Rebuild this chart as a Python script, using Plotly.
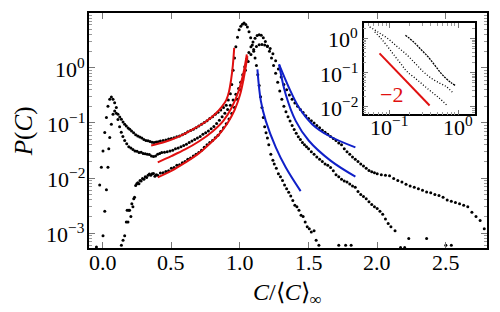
import plotly.graph_objects as go
import math

# ---------------- main panel data ----------------
n_x = [-0.046, -0.022, -0.01, 0.002, 0.015, 0.027, 0.038, 0.051, 0.063, 0.075, 0.087, 0.099,
       0.111, 0.124, 0.136, 0.148, 0.16, 0.172, 0.185, 0.197, 0.21, 0.225, 0.24, 0.255, 0.27,
       0.285, 0.3, 0.315, 0.33, 0.345, 0.36, 0.375, 0.39, 0.405, 0.42, 0.44, 0.46, 0.48, 0.5,
       0.52, 0.54, 0.56, 0.58, 0.6, 0.62, 0.64, 0.66, 0.68, 0.7, 0.72, 0.74, 0.76, 0.78, 0.8,
       0.82, 0.84, 0.86, 0.88, 0.9, 0.915, 0.93, 0.94, 0.95, 0.96, 0.97, 0.982, 0.994, 1.006,
       1.018, 1.03, 1.042, 1.054, 1.066, 1.078, 1.09, 1.1, 1.11, 1.12, 1.13, 1.14, 1.15, 1.16,
       1.17, 1.18, 1.19, 1.2, 1.21, 1.225, 1.24, 1.25, 1.265, 1.28, 1.295, 1.31, 1.325, 1.34,
       1.355, 1.37, 1.385, 1.4, 1.415, 1.43, 1.445, 1.46, 1.475, 1.49, 1.505, 1.52, 1.54, 1.555,
       1.575, 1.72, 1.77, 1.81]
n_y = [0.00056, 0.0075, 0.0157, 0.031, 0.067, 0.125, 0.20, 0.27, 0.296, 0.27, 0.233, 0.19,
       0.144, 0.128, 0.117, 0.104, 0.095, 0.088, 0.081, 0.077, 0.071, 0.066, 0.061, 0.058, 0.0555,
       0.053, 0.05, 0.048, 0.0475, 0.046, 0.0445, 0.044, 0.045, 0.0455, 0.047, 0.048, 0.049, 0.051, 0.052,
       0.054, 0.056, 0.058, 0.061, 0.064, 0.069, 0.073, 0.077, 0.082, 0.088, 0.095, 0.102, 0.11, 0.12, 0.13,
       0.143, 0.157, 0.172, 0.19, 0.21, 0.26, 0.34, 0.5, 0.9, 1.5, 2.4, 3.6, 4.9, 5.7,
       6.2, 6.5, 6.1, 5.5, 4.5, 3.5, 2.6, 2.0, 1.5, 1.1, 0.75, 0.48, 0.3, 0.19,
       0.125, 0.085, 0.066, 0.053, 0.04, 0.027, 0.021, 0.018, 0.015, 0.012, 0.0105, 0.009, 0.0075, 0.0064,
       0.0055, 0.0047, 0.0039, 0.0032, 0.003, 0.0026, 0.0021, 0.002, 0.0016, 0.0013, 0.0012, 0.00105, 0.0011, 0.00074,
       0.0006, 0.0006, 0.0006, 0.0006]

m_x = [0.002, 0.015, 0.027, 0.038, 0.044, 0.051, 0.063, 0.075, 0.087, 0.099, 0.111, 0.123, 0.135,
       0.147, 0.16, 0.175, 0.19, 0.205, 0.22, 0.235, 0.25, 0.265, 0.28, 0.295, 0.31, 0.325, 0.34,
       0.355, 0.37, 0.385, 0.4, 0.415, 0.43, 0.45, 0.47, 0.49, 0.51, 0.53, 0.55, 0.57, 0.59, 0.61,
       0.63, 0.65, 0.67, 0.69, 0.71, 0.73, 0.75, 0.77, 0.79, 0.81, 0.83, 0.85, 0.87, 0.89, 0.91,
       0.93, 0.95, 0.97, 0.99, 1.005, 1.02, 1.035, 1.05, 1.065, 1.08, 1.095, 1.11, 1.125, 1.14,
       1.155, 1.17, 1.185, 1.2, 1.215, 1.23, 1.245, 1.26, 1.275, 1.29, 1.305, 1.32, 1.335, 1.35,
       1.365, 1.38, 1.395, 1.41, 1.425, 1.44, 1.455, 1.47, 1.485, 1.5, 1.52, 1.54, 1.56, 1.58, 1.6,
       1.62, 1.64, 1.66, 1.68, 1.7, 1.72, 1.74, 1.76, 1.78, 1.8, 1.82, 1.84, 1.86, 1.88, 1.9, 1.92,
       1.94, 1.96, 1.98, 2.0, 2.02, 2.04, 2.06, 2.08, 2.1, 2.13, 2.17, 2.2, 2.23, 2.36, 2.5, 2.54]
m_y = [0.0009, 0.0025, 0.0061, 0.0157, 0.034, 0.0545, 0.095, 0.144, 0.165, 0.15, 0.115, 0.085, 0.068,
       0.057, 0.048, 0.042, 0.037, 0.035, 0.033, 0.031, 0.0305, 0.029, 0.0295, 0.028, 0.0275, 0.027, 0.0266,
       0.025, 0.0245, 0.025, 0.027, 0.028, 0.029, 0.0295, 0.030, 0.031, 0.032, 0.034, 0.035, 0.037, 0.039, 0.041,
       0.044, 0.047, 0.05, 0.053, 0.057, 0.062, 0.066, 0.071, 0.078, 0.086, 0.098, 0.112, 0.13, 0.15, 0.175,
       0.21, 0.26, 0.33, 0.42, 0.55, 0.75, 1.05, 1.45, 1.9, 2.4, 2.95, 3.45, 3.85, 4.0,
       3.9, 3.5, 3.0, 2.5, 2.0, 1.5, 1.1, 0.8, 0.55, 0.38, 0.27, 0.2, 0.16, 0.13,
       0.108, 0.09, 0.076, 0.065, 0.056, 0.05, 0.044, 0.04, 0.037, 0.034, 0.03, 0.027, 0.024, 0.022, 0.02,
       0.018, 0.017, 0.0155, 0.0135, 0.0115, 0.0105, 0.0095, 0.0088, 0.0085, 0.0078, 0.0072, 0.0068, 0.0057, 0.005, 0.0046, 0.0042,
       0.0037, 0.0033, 0.003, 0.0028, 0.0025, 0.0022, 0.0018, 0.0015, 0.0013, 0.0011, 0.00055, 0.00055, 0.0008, 0.0008, 0.0006, 0.0006]

w_x = [0.136, 0.148, 0.16, 0.172, 0.178, 0.184, 0.19, 0.196, 0.205, 0.212, 0.22, 0.226, 0.232, 0.24,
       0.248, 0.256, 0.264, 0.272, 0.28, 0.29, 0.3, 0.31, 0.32, 0.33, 0.34, 0.35, 0.36, 0.37, 0.38,
       0.39, 0.4, 0.42, 0.44, 0.46, 0.48, 0.5, 0.52, 0.54, 0.56, 0.58, 0.6, 0.62, 0.64, 0.66, 0.68,
       0.7, 0.72, 0.74, 0.76, 0.78, 0.8, 0.82, 0.84, 0.86, 0.88, 0.9, 0.92, 0.94, 0.96, 0.98, 1.0,
       1.02, 1.04, 1.06, 1.08, 1.1, 1.12, 1.14, 1.16, 1.18, 1.2, 1.22, 1.24, 1.26, 1.28, 1.3, 1.32,
       1.34, 1.36, 1.38, 1.4, 1.42, 1.44, 1.46, 1.48, 1.5, 1.52, 1.54, 1.56, 1.58, 1.6, 1.62, 1.64,
       1.66, 1.68, 1.7, 1.72, 1.74, 1.76, 1.78, 1.8, 1.82, 1.84, 1.86, 1.88, 1.9, 1.92, 1.94, 1.96,
       1.98, 2.0, 2.03, 2.06, 2.09, 2.12, 2.15, 2.18, 2.21, 2.24, 2.27, 2.3, 2.33, 2.36, 2.39, 2.42,
       2.45, 2.48, 2.51, 2.54, 2.57, 2.6, 2.63, 2.66, 2.69, 2.72, 2.75, 2.78]
w_y = [0.0006, 0.00074, 0.0009, 0.0016, 0.0026, 0.0016, 0.0026, 0.0026, 0.002, 0.0034, 0.003, 0.0042, 0.0045, 0.0073,
       0.0079, 0.0082, 0.0079, 0.009, 0.0088, 0.0098, 0.0095, 0.0105, 0.0102, 0.0112, 0.0118, 0.0112, 0.012, 0.0121, 0.0108,
       0.0115, 0.0112, 0.0123, 0.0125, 0.0132, 0.0136, 0.015, 0.0155, 0.017, 0.0175, 0.019, 0.02, 0.022, 0.023, 0.025, 0.027,
       0.029, 0.032, 0.036, 0.04, 0.044, 0.048, 0.054, 0.06, 0.07, 0.082, 0.097, 0.118, 0.148, 0.19, 0.27, 0.4,
       0.6, 0.9, 1.3, 1.75, 2.15, 2.45, 2.62, 2.65, 2.6, 2.45, 2.25, 1.8, 1.35, 0.95, 0.68, 0.5,
       0.4, 0.32, 0.27, 0.23, 0.2, 0.175, 0.155, 0.135, 0.12, 0.11, 0.1, 0.09, 0.082, 0.074, 0.068, 0.062,
       0.057, 0.052, 0.048, 0.043, 0.04, 0.034, 0.03, 0.027, 0.024, 0.022, 0.02, 0.018, 0.0165, 0.015, 0.0137, 0.013,
       0.0125, 0.012, 0.0115, 0.0112, 0.011, 0.0098, 0.009, 0.0085, 0.0077, 0.0072, 0.0068, 0.0064, 0.006, 0.0056, 0.0054, 0.005,
       0.0048, 0.0045, 0.004, 0.0038, 0.0036, 0.0034, 0.0032, 0.003, 0.0024, 0.002, 0.0017, 0.0012]

# fits (left side, red)
redA_x = [0.353, 0.45, 0.55, 0.65, 0.75, 0.82, 0.87, 0.9, 0.92, 0.935, 0.948, 0.958]
redA_y = [0.039, 0.045, 0.056, 0.075, 0.105, 0.145, 0.2, 0.26, 0.37, 0.6, 1.1, 2.3]
redB_x = [0.401, 0.5, 0.6, 0.7, 0.8, 0.88, 0.94, 0.99, 1.025, 1.05]
redB_y = [0.0193, 0.025, 0.033, 0.046, 0.07, 0.11, 0.19, 0.38, 0.8, 1.75]
redC_x = [0.401, 0.5, 0.6, 0.7, 0.78, 0.85, 0.91, 0.96, 1.0, 1.03, 1.054]
redC_y = [0.0103, 0.0135, 0.019, 0.028, 0.042, 0.063, 0.1, 0.17, 0.32, 0.7, 1.63]

# fits (right side, blue)
blue1_x = [1.127, 1.152, 1.188, 1.261, 1.333, 1.442]
blue1_y = [0.935, 0.251, 0.109, 0.036, 0.0157, 0.00578]
blue2_x = [1.285, 1.333, 1.406, 1.502, 1.66, 1.841]
blue2_y = [1.15, 0.331, 0.109, 0.0475, 0.0207, 0.0106]
blue3_x = [1.285, 1.357, 1.43, 1.526, 1.647, 1.841]
blue3_y = [1.15, 0.435, 0.19, 0.095, 0.0585, 0.036]

# ---------------- inset data ----------------
ia_x = [0.052, 0.068, 0.095, 0.131, 0.181, 0.238, 0.311, 0.407, 0.535, 0.664, 0.823]
ia_y = [2.18, 1.56, 1.0, 0.575, 0.33, 0.188, 0.108, 0.069, 0.050, 0.040, 0.027]
ib_x = [0.0615, 0.076, 0.095, 0.117, 0.146, 0.181, 0.238, 0.311, 0.407, 0.535, 0.70]
ib_y = [1.56, 1.0, 0.575, 0.33, 0.188, 0.108, 0.069, 0.044, 0.028, 0.018, 0.0108]
ic_x = [0.172, 0.225, 0.294, 0.365, 0.455, 0.564, 0.664, 0.78, 0.916]
ic_y = [1.25, 0.80, 0.46, 0.295, 0.169, 0.097, 0.069, 0.052, 0.042]
slope_x = [0.0723, 0.386]
slope_y = [0.367, 0.011]
slope_label = "−2"

main_xticks = [0, 0.5, 1.0, 1.5, 2.0, 2.5]
main_xtext = ["0.0", "0.5", "1.0", "1.5", "2.0", "2.5"]
main_yticks = [1e-3, 1e-2, 1e-1, 1]
main_ytext = ["10<sup>−3</sup>", "10<sup>−2</sup>", "10<sup>−1</sup>", "10<sup>0</sup>"]
ins_xticks = [0.1, 1]
ins_xtext = ["10<sup>−1</sup>", "10<sup>0</sup>"]
ins_yticks = [0.01, 0.1, 1]
ins_ytext = ["10<sup>−2</sup>", "10<sup>−1</sup>", "10<sup>0</sup>"]

FONT = "Liberation Serif"
FS = 22
RED = "#e01010"
BLUE = "#1020c8"

fig = go.Figure()
for xs, ys in [(n_x, n_y), (m_x, m_y), (w_x, w_y)]:
    fig.add_trace(go.Scatter(x=xs, y=ys, mode="markers",
                             marker=dict(size=3, color="black"), showlegend=False))
for xs, ys in [(redA_x, redA_y), (redB_x, redB_y), (redC_x, redC_y)]:
    fig.add_trace(go.Scatter(x=xs, y=ys, mode="lines", line=dict(color=RED, width=2, shape="spline"),
                             showlegend=False))
for xs, ys in [(blue1_x, blue1_y), (blue2_x, blue2_y), (blue3_x, blue3_y)]:
    fig.add_trace(go.Scatter(x=xs, y=ys, mode="lines", line=dict(color=BLUE, width=2, shape="spline"),
                             showlegend=False))
for xs, ys, dash in [(ia_x, ia_y, "1px,2px"), (ib_x, ib_y, "1px,2px"), (ic_x, ic_y, "2px,1px")]:
    fig.add_trace(go.Scatter(x=xs, y=ys, mode="lines", xaxis="x2", yaxis="y2",
                             line=dict(color="black", width=1.3, dash=dash, shape="spline"),
                             showlegend=False))
fig.add_trace(go.Scatter(x=slope_x, y=slope_y, mode="lines", xaxis="x2", yaxis="y2",
                         line=dict(color=RED, width=2), showlegend=False))

main_minor_y = [k * 10 ** e for e in (-4, -3, -2, -1, 0) for k in range(2, 10)]
ins_minor_x = [k * 10 ** e for e in (-2, -1, 0) for k in range(2, 10)]
ins_minor_y = [k * 10 ** e for e in (-3, -2, -1, 0) for k in range(2, 10)]

# plot-area geometry (pixels)
L, R, T, B = 89, 12, 11, 64
PW, PH = 500 - L - R, 312 - T - B
INS_X0, INS_X1, INS_Y0, INS_Y1 = 364.3, 475.7, 21.0, 113.3

def px2paper_x(px):
    return (px - L) / PW

def px2paper_y(py):
    return (312 - B - py) / PH

axis_common = dict(ticks="inside", tickcolor="#777", tickwidth=1, showticklabels=False,
                   showline=True, linecolor="black", linewidth=1.5, mirror="allticks",
                   showgrid=False, zeroline=False)

annotations = []
tfont = dict(family=FONT, size=FS, color="black")
for v, t in zip(main_xticks, main_xtext):
    annotations.append(dict(text=t, xref="x", yref="paper", x=v, y=px2paper_y(263),
                            xanchor="center", yanchor="middle", showarrow=False, font=tfont))
for v, t in zip(main_yticks, main_ytext):
    annotations.append(dict(text=t, xref="paper", yref="y", x=px2paper_x(87), y=math.log10(v),
                            xanchor="right", yanchor="middle", showarrow=False, font=tfont))
for v, t in zip(ins_xticks, ins_xtext):
    annotations.append(dict(text=t, xref="x2", yref="paper", x=math.log10(v), y=px2paper_y(125),
                            xanchor="center", yanchor="middle", showarrow=False, font=tfont))
for v, t in zip(ins_yticks, ins_ytext):
    annotations.append(dict(text=t, xref="paper", yref="y2", x=px2paper_x(361), y=math.log10(v),
                            xanchor="right", yanchor="middle", showarrow=False, font=tfont))
annotations += [
    dict(text="<i>P</i>(<i>C</i>)", xref="paper", yref="paper", x=px2paper_x(24), y=px2paper_y(130),
         xanchor="center", yanchor="middle", textangle=-90, showarrow=False,
         font=dict(family=FONT, size=25, color="black")),
    dict(text="<i>C</i>/⟨<i>C</i>⟩<sub>∞</sub>", xref="paper", yref="paper", x=px2paper_x(288),
         y=px2paper_y(294), xanchor="center", yanchor="middle", showarrow=False,
         font=dict(family=FONT, size=24, color="black")),
    dict(text=slope_label, xref="x2", yref="y2", x=-0.97, y=-1.63, xanchor="center", yanchor="middle",
         showarrow=False, font=dict(family=FONT, size=FS, color=RED)),
]

fig.update_layout(
    width=500, height=312,
    margin=dict(l=L, r=R, t=T, b=B),
    paper_bgcolor="white", plot_bgcolor="white",
    xaxis=dict(range=[-0.1, 2.8], tickmode="array", tickvals=main_xticks, ticklen=6, **axis_common),
    yaxis=dict(type="log", range=[-3.27, 0.995], tickmode="array", tickvals=main_yticks, ticklen=6,
               minor=dict(tickmode="array", tickvals=main_minor_y, ticks="inside", ticklen=3,
                          tickcolor="#999", showgrid=False), **axis_common),
    xaxis2=dict(type="log", domain=[px2paper_x(INS_X0), px2paper_x(INS_X1)], anchor="y2",
                range=[-1.372, 0.242], tickmode="array", tickvals=ins_xticks, ticklen=5,
                minor=dict(tickmode="array", tickvals=ins_minor_x, ticks="inside", ticklen=3,
                           tickcolor="#999", showgrid=False), **axis_common),
    yaxis2=dict(type="log", domain=[px2paper_y(INS_Y1), px2paper_y(INS_Y0)], anchor="x2",
                range=[-2.22, 0.455], tickmode="array", tickvals=ins_yticks, ticklen=5,
                minor=dict(tickmode="array", tickvals=ins_minor_y, ticks="inside", ticklen=3,
                           tickcolor="#999", showgrid=False), **axis_common),
    annotations=annotations,
)

fig.write_html("out.html", config={"displayModeBar": False},
               post_script="document.body.style.margin='0px';")
